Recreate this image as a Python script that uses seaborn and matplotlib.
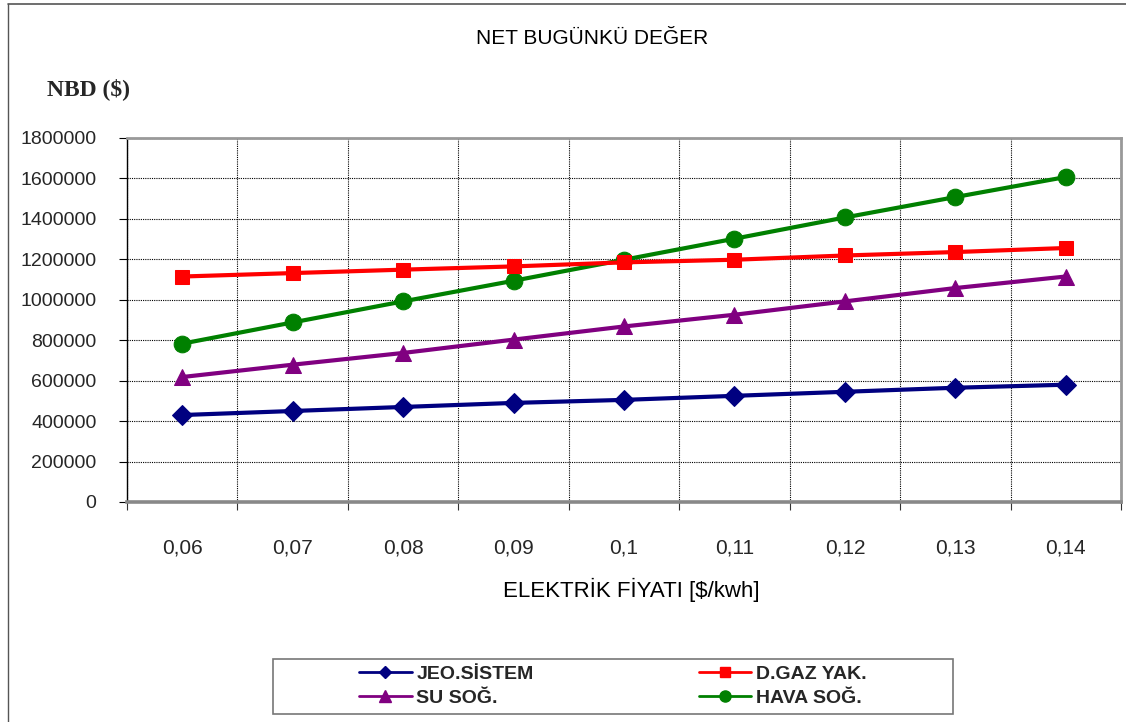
import numpy as np
import pandas as pd
import matplotlib
matplotlib.use("Agg")
import matplotlib.pyplot as plt
from matplotlib.lines import Line2D
from matplotlib.patches import Rectangle
import seaborn as sns

# Electricity price categories ($/kWh)
prices = ["0,06", "0,07", "0,08", "0,09", "0,1", "0,11", "0,12", "0,13", "0,14"]

# Net present value of each system ($)
jeo_sistem = [430000, 450000, 470000, 490000, 505000, 525000, 545000, 565000, 580000]
dgaz_yak = [1115000, 1132000, 1149000, 1165000, 1185000, 1198000, 1219000, 1236000, 1256000]
su_sog = [618000, 679000, 737000, 803000, 868000, 926000, 992000, 1058000, 1115000]
hava_sog = [783000, 888000, 992000, 1094000, 1198000, 1302000, 1407000, 1508000, 1607000]

series_names = ["JEO.SİSTEM", "SU SOĞ.", "D.GAZ YAK.", "HAVA SOĞ."]
series_values = [jeo_sistem, su_sog, dgaz_yak, hava_sog]
colors = {"JEO.SİSTEM": "#000080", "SU SOĞ.": "#800080",
          "D.GAZ YAK.": "#FF0000", "HAVA SOĞ.": "#008000"}
markers = {"JEO.SİSTEM": "D", "SU SOĞ.": "^", "D.GAZ YAK.": "s", "HAVA SOĞ.": "o"}
msizes = {"JEO.SİSTEM": 10.5, "SU SOĞ.": 11.5, "D.GAZ YAK.": 9.5, "HAVA SOĞ.": 12}
leg_msizes = {"JEO.SİSTEM": 6.5, "SU SOĞ.": 8, "D.GAZ YAK.": 7.5, "HAVA SOĞ.": 8}

rows = []
for name, vals in zip(series_names, series_values):
    for i, v in enumerate(vals):
        rows.append({"pos": i, "price": prices[i], "value": v, "series": name})
df = pd.DataFrame(rows)

sns.set_theme(style="white")
plt.rcParams["font.family"] = ["Liberation Sans", "DejaVu Sans"]

W, H = 1126, 722
fig = plt.figure(figsize=(W / 100, H / 100), dpi=100)
fig.patch.set_facecolor("white")

# plot area in pixels: left 127, right 1121, top 138, bottom 502
ax = fig.add_axes([127 / W, 1 - 502 / H, (1121 - 127) / W, (502 - 138) / H])

for name in ["HAVA SOĞ.", "SU SOĞ.", "D.GAZ YAK.", "JEO.SİSTEM"]:
    sub = df[df["series"] == name]
    sns.lineplot(data=sub, x="pos", y="value", ax=ax, color=colors[name],
                 marker=markers[name], markersize=msizes[name],
                 markeredgecolor=colors[name], linewidth=3.0,
                 label=name, legend=False, zorder=3)

ax.set_xlim(-0.5, len(prices) - 0.5)
ax.set_ylim(0, 1800000)

# category boundaries carry ticks and grid, centres carry labels
ax.set_xticks(np.arange(-0.5, len(prices), 1.0))
ax.set_xticklabels([])
ax.set_xticks(np.arange(len(prices)), minor=True)
ax.set_xticklabels(prices, minor=True)
ax.tick_params(axis="x", which="major", direction="out", length=6, width=0.8,
               color="#333333", bottom=True)
ax.tick_params(axis="x", which="minor", length=0, pad=26, labelsize=15)

yticks = np.arange(0, 1800001, 200000)
ax.set_yticks(yticks)
ax.set_yticklabels([str(int(t)) for t in yticks])
ax.tick_params(axis="y", direction="out", length=6, width=0.8, color="black",
               left=True, pad=16, labelsize=14)

ax.grid(True, which="major", color="black", linestyle=(0, (1, 1)), linewidth=0.8)
ax.set_axisbelow(True)

for side in ["top", "right"]:
    ax.spines[side].set_color("#999999")
    ax.spines[side].set_linewidth(2.0)
ax.spines["bottom"].set_color("#888888")
ax.spines["bottom"].set_linewidth(2.6)
ax.spines["left"].set_color("black")
ax.spines["left"].set_linewidth(1.0)

ax.set_xlabel("")
ax.set_ylabel("")

# titles
fig.text(592 / W, 1 - 38 / H, "NET BUGÜNKÜ DEĞER", ha="center", va="center",
         fontsize=15, color="black")
fig.text(47 / W, 1 - 89 / H, "NBD ($)", ha="left", va="center", fontsize=17,
         fontweight="bold", family=["Liberation Serif", "DejaVu Serif"])
fig.text(631 / W, 1 - 590 / H, "ELEKTRİK FİYATI [$/kwh]", ha="center",
         va="center", fontsize=16, color="black")

# legend box
fig.patches.append(Rectangle((273 / W, 1 - 714 / H), (953 - 273) / W,
                             (714 - 659) / H, transform=fig.transFigure,
                             facecolor="white", edgecolor="#777777",
                             linewidth=1.2, zorder=0))
handles = [Line2D([], [], color=colors[n], marker=markers[n],
                  markersize=leg_msizes[n], linewidth=2.0) for n in series_names]
leg = fig.legend(handles, series_names, ncol=2, loc="center",
                 bbox_to_anchor=(613 / W, 1 - 686 / H), frameon=False,
                 prop={"weight": "bold", "size": 14}, handlelength=2.7,
                 handletextpad=0.25, columnspacing=8.5, labelspacing=0.35,
                 borderpad=0.0)

# outer chart border
fig.add_artist(Line2D([8 / W, 8 / W], [0, 1 - 4 / H], transform=fig.transFigure,
                      color="#555555", linewidth=1.0))
fig.add_artist(Line2D([8 / W, 1], [1 - 4 / H, 1 - 4 / H], transform=fig.transFigure,
                      color="#555555", linewidth=1.2))

fig.savefig("out.png", dpi=100, facecolor="white")
